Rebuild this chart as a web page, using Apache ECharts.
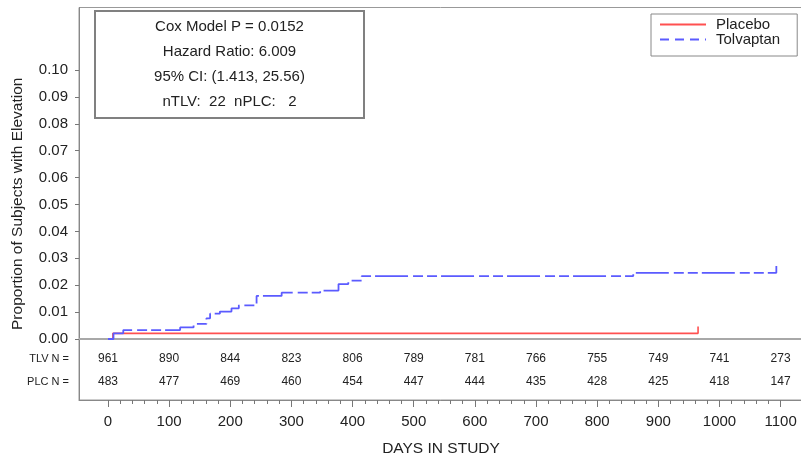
<!DOCTYPE html>
<html>
<head>
<meta charset="utf-8">
<script src="https://cdn.jsdelivr.net/npm/echarts@6/dist/echarts.min.js"></script>
<style>html,body{margin:0;padding:0;background:#fff;}#c{width:801px;height:456px;}</style>
</head>
<body>
<div id="c"></div>
<script>
// ---- data ----
const dayTicks = [0, 100, 200, 300, 400, 500, 600, 700, 800, 900, 1000, 1100];
const propTicks = [0, 0.01, 0.02, 0.03, 0.04, 0.05, 0.06, 0.07, 0.08, 0.09, 0.10];
const tlvAtRisk = [961, 890, 844, 823, 806, 789, 781, 766, 755, 749, 741, 273];
const plcAtRisk = [483, 477, 469, 460, 454, 447, 444, 435, 428, 425, 418, 147];

const plcDays = [0, 8, 965];
const plcProp = [0, 0.0021, 0.0046];

const tlvDays = [0, 9, 25, 118, 140, 161, 167, 183, 202, 214, 243, 284, 347, 377, 393, 415, 859, 1093];
const tlvProp = [0, 0.0021, 0.0033, 0.0043, 0.0056, 0.0077, 0.0094, 0.0102, 0.0114, 0.0125, 0.0160, 0.0172, 0.0180, 0.0204, 0.0217, 0.0234, 0.0246, 0.0271];

const annotationLines = ['Cox Model P = 0.0152', 'Hazard Ratio: 6.009', '95% CI: (1.413, 25.56)', 'nTLV:  22  nPLC:   2'];

// ---- build ----
const minorTicks = [];
for (let d = 0; d <= 1100; d += 20) minorTicks.push(d);

const X_MIN = -47.4, X_MAX = 1136.6;
const Y_MIN = -0.02268, Y_MAX = 0.12323;
const FONT = 'Liberation Sans, Arial, sans-serif';
const TXT = '#222';

function zip(a, b) { return a.map((v, i) => [v, b[i]]); }

function riskAxis(name, values, offset) {
  return {
    type: 'value', gridIndex: 0, position: 'bottom', offset: offset,
    min: X_MIN, max: X_MAX,
    axisLine: { show: false, onZero: false }, axisTick: { show: false }, splitLine: { show: false },
    axisLabel: {
      customValues: dayTicks, margin: 0, verticalAlign: 'middle',
      fontSize: 12, color: TXT, fontFamily: FONT,
      formatter: v => String(values[dayTicks.indexOf(v)])
    },
    name: name, nameLocation: 'start', nameGap: 10,
    nameTextStyle: { fontSize: 11, color: TXT, fontFamily: FONT, verticalAlign: 'middle', align: 'right' }
  };
}

const chart = echarts.init(document.getElementById('c'), null, { renderer: 'canvas' });
const option = {
  animation: false,
  backgroundColor: '#fff',
  textStyle: { fontFamily: FONT },
  grid: {
    left: 79, top: 7.5, width: 724, bottom: 56,
    show: true, borderColor: '#999', borderWidth: 1, backgroundColor: 'transparent',
    outerBoundsMode: 'none', containLabel: false
  },
  legend: {
    orient: 'vertical', left: 651, top: 14,
    itemWidth: 46, itemHeight: 14, itemGap: 0,
    padding: [3, 17, 9, 8],
    borderColor: '#888', borderWidth: 1, backgroundColor: '#fff',
    itemStyle: { opacity: 0 },
    textStyle: { fontSize: 15, color: TXT, fontFamily: FONT, lineHeight: 15, padding: [0, 0, 0, 5] },
    data: [
      { name: 'Placebo', lineStyle: { type: 'solid' } },
      { name: 'Tolvaptan', lineStyle: { type: [9, 6] } }
    ]
  },
  xAxis: [
    {
      type: 'value', gridIndex: 0, position: 'bottom', min: X_MIN, max: X_MAX,
      axisLine: { show: true, onZero: false, lineStyle: { color: '#888', width: 1 } },
      axisTick: { show: true, customValues: dayTicks, length: 7, inside: false, lineStyle: { color: '#777' } },
      axisLabel: { customValues: dayTicks, fontSize: 15, color: TXT, margin: 14, fontFamily: FONT, formatter: v => String(v) },
      splitLine: { show: false },
      name: 'DAYS IN STUDY', nameLocation: 'middle', nameGap: 41,
      nameTextStyle: { fontSize: 15.5, color: TXT, fontFamily: FONT }
    },
    {
      type: 'value', gridIndex: 0, position: 'bottom', min: X_MIN, max: X_MAX,
      axisLine: { show: false, onZero: false },
      axisTick: { show: true, customValues: minorTicks, length: 4, inside: false, lineStyle: { color: '#777' } },
      axisLabel: { show: false }, splitLine: { show: false }
    },
    riskAxis('TLV N =', tlvAtRisk, -41),
    riskAxis('PLC N =', plcAtRisk, -18.5)
  ],
  yAxis: {
    type: 'value', min: Y_MIN, max: Y_MAX,
    axisLine: { show: true, onZero: false, lineStyle: { color: '#888', width: 1 } },
    axisTick: { show: true, customValues: propTicks, length: 4, lineStyle: { color: '#777' } },
    axisLabel: { customValues: propTicks, formatter: v => v.toFixed(2), fontSize: 15, color: TXT, margin: 11, fontFamily: FONT },
    splitLine: { show: false },
    name: 'Proportion of Subjects with Elevation', nameLocation: 'middle', nameGap: 53,
    nameTextStyle: { fontSize: 15.5, color: TXT, fontFamily: FONT }
  },
  series: [
    {
      name: 'Placebo', type: 'line', step: 'end', xAxisIndex: 0, yAxisIndex: 0,
      data: zip(plcDays, plcProp), symbol: 'none', z: 3,
      itemStyle: { color: '#ff5050' },
      lineStyle: { color: '#ff5050', width: 1.6 },
      markLine: {
        silent: true, symbol: 'none', label: { show: false }, z: 1,
        lineStyle: { color: '#a8a8a8', width: 2, type: 'solid' },
        data: [{ yAxis: 0 }]
      }
    },
    {
      name: 'Tolvaptan', type: 'line', step: 'end', xAxisIndex: 0, yAxisIndex: 0,
      data: zip(tlvDays, tlvProp), symbol: 'none', z: 4,
      itemStyle: { color: '#5b5bff' },
      lineStyle: { color: '#5b5bff', width: 1.8, type: [33, 5, 10, 4, 10, 4] }
    }
  ],
  graphic: [
    {
      type: 'group', left: 94, top: 10,
      children: [
        { type: 'rect', shape: { x: 0, y: 0, width: 269, height: 107 }, style: { fill: '#fff', stroke: '#808080', lineWidth: 2 } }
      ].concat(annotationLines.map((t, i) => ({
        type: 'text', x: 134.5, y: 15.5 + i * 25,
        style: { text: t, fill: TXT, font: '15px ' + FONT, textAlign: 'center', textVerticalAlign: 'middle' }
      })))
    }
  ]
};
chart.setOption(option);
</script>
</body>
</html>
